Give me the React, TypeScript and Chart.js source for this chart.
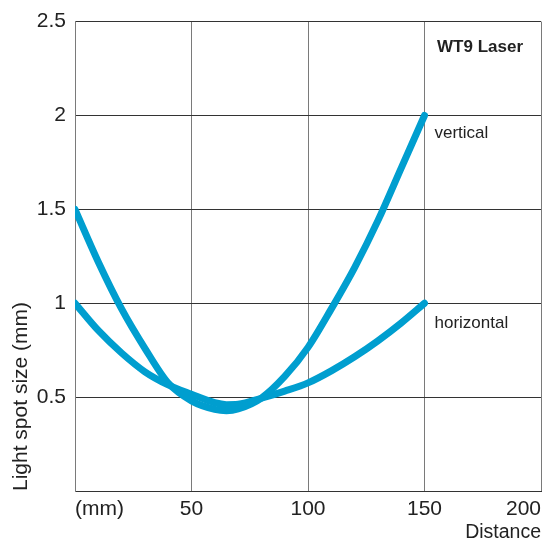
import React, { useEffect, useRef } from "react";
import { Chart, registerables } from "chart.js";

Chart.register(...registerables);

// ---- data ----
const distances = [0, 10, 20, 30, 40, 50, 60, 65, 70, 80, 90, 100, 110, 120, 130, 140, 150];
const verticalY = [1.5, 1.22, 0.97, 0.76, 0.575, 0.48, 0.435, 0.428, 0.437, 0.495, 0.61, 0.765, 0.97, 1.19, 1.44, 1.72, 2.0];
const horizontalY = [1.0, 0.855, 0.735, 0.635, 0.565, 0.515, 0.47, 0.46, 0.462, 0.494, 0.532, 0.576, 0.64, 0.715, 0.8, 0.895, 1.0];

const xTickValues = [0, 50, 100, 150, 200];
const xTickLabels = ["(mm)", "50", "100", "150", "200"];
const yTickValues = [0, 0.5, 1, 1.5, 2, 2.5];
const yTickLabels = ["", "0.5", "1", "1.5", "2", "2.5"];

const chartTitle = "WT9 Laser";
const seriesNames = ["vertical", "horizontal"];
const xAxisTitle = "Distance";
const yAxisTitle = "Light spot size (mm)";

const FONT = "'Liberation Sans', Arial, Helvetica, sans-serif";
const BLUE = "#009ecf";
const TEXT = "#222222";

const toPoints = (xs: number[], ys: number[]) => xs.map((x, i) => ({ x, y: ys[i] }));

const labelPlugin = {
  id: "labels",
  afterDatasetsDraw(chart: any) {
    const { ctx, scales, data } = chart;
    const xs = scales.x;
    const ys = scales.y;
    ctx.save();
    ctx.fillStyle = TEXT;
    ctx.font = `bold 17px ${FONT}`;
    ctx.textAlign = "right";
    ctx.textBaseline = "alphabetic";
    ctx.fillText(chartTitle, xs.getPixelForValue(xs.max) - 18, ys.getPixelForValue(ys.max) + 30);
    ctx.font = `17px ${FONT}`;
    ctx.textAlign = "left";
    data.datasets.forEach((ds: any, i: number) => {
      const last = ds.data[ds.data.length - 1];
      const px = xs.getPixelForValue(last.x) + 10;
      const py = ys.getPixelForValue(last.y) + (i === 0 ? 23 : 25);
      ctx.fillText(seriesNames[i], px, py);
    });
    ctx.restore();
  },
};

const lineStyle = {
  borderColor: BLUE,
  borderWidth: 7,
  borderCapStyle: "round",
  borderJoinStyle: "round",
  pointRadius: 0,
  cubicInterpolationMode: "monotone",
  fill: false,
};

export default function App() {
  const ref = useRef<HTMLCanvasElement | null>(null);

  useEffect(() => {
    if (!ref.current) return;
    const chart = new Chart(ref.current, {
      type: "line",
      data: {
        datasets: [
          { label: seriesNames[0], data: toPoints(distances, verticalY), ...lineStyle },
          { label: seriesNames[1], data: toPoints(distances, horizontalY), ...lineStyle },
        ],
      },
      options: {
        responsive: false,
        animation: false,
        events: [],
        layout: { padding: { top: 20, right: 7, bottom: 0, left: 0 } },
        plugins: {
          legend: { display: false },
          tooltip: { enabled: false },
        },
        scales: {
          x: {
            type: "linear",
            min: 0,
            max: 200,
            afterBuildTicks: (s: any) => {
              s.ticks = xTickValues.map((v) => ({ value: v }));
            },
            afterFit: (s: any) => {
              s.height = 51;
            },
            ticks: {
              align: "inner",
              padding: 6,
              color: TEXT,
              font: { family: FONT, size: 21 },
              maxRotation: 0,
              callback: (v: any) => {
                const i = xTickValues.indexOf(Number(v));
                return i >= 0 ? xTickLabels[i] : "";
              },
            },
            grid: { color: "#7a7a7a", lineWidth: 1, drawTicks: false },
            border: { color: "#333333", width: 1 },
            title: {
              display: true,
              text: xAxisTitle,
              align: "end",
              color: TEXT,
              font: { family: FONT, size: 19.5, lineHeight: 1.0 },
              padding: { top: 0, bottom: 0 },
            },
          },
          y: {
            type: "linear",
            min: 0,
            max: 2.5,
            afterBuildTicks: (s: any) => {
              s.ticks = yTickValues.map((v) => ({ value: v }));
            },
            afterFit: (s: any) => {
              s.width = 75;
            },
            ticks: {
              padding: 9,
              color: TEXT,
              font: { family: FONT, size: 21 },
              callback: (v: any) => {
                const i = yTickValues.indexOf(Number(v));
                return i >= 0 ? yTickLabels[i] : "";
              },
            },
            grid: { color: "#333333", lineWidth: 1, drawTicks: false },
            border: { color: "#7a7a7a", width: 1 },
            title: {
              display: true,
              text: yAxisTitle,
              align: "start",
              color: TEXT,
              font: { family: FONT, size: 21 },
              padding: { top: 9, bottom: 0 },
            },
          },
        },
      },
      plugins: [labelPlugin],
    } as any);
    return () => chart.destroy();
  }, []);

  return (
    <div style={{ position: "absolute", left: 0, top: 0, width: 548, height: 542, background: "#fff" }}>
      <canvas ref={ref} width={548} height={542} style={{ width: 548, height: 542, display: "block" }} />
    </div>
  );
}
